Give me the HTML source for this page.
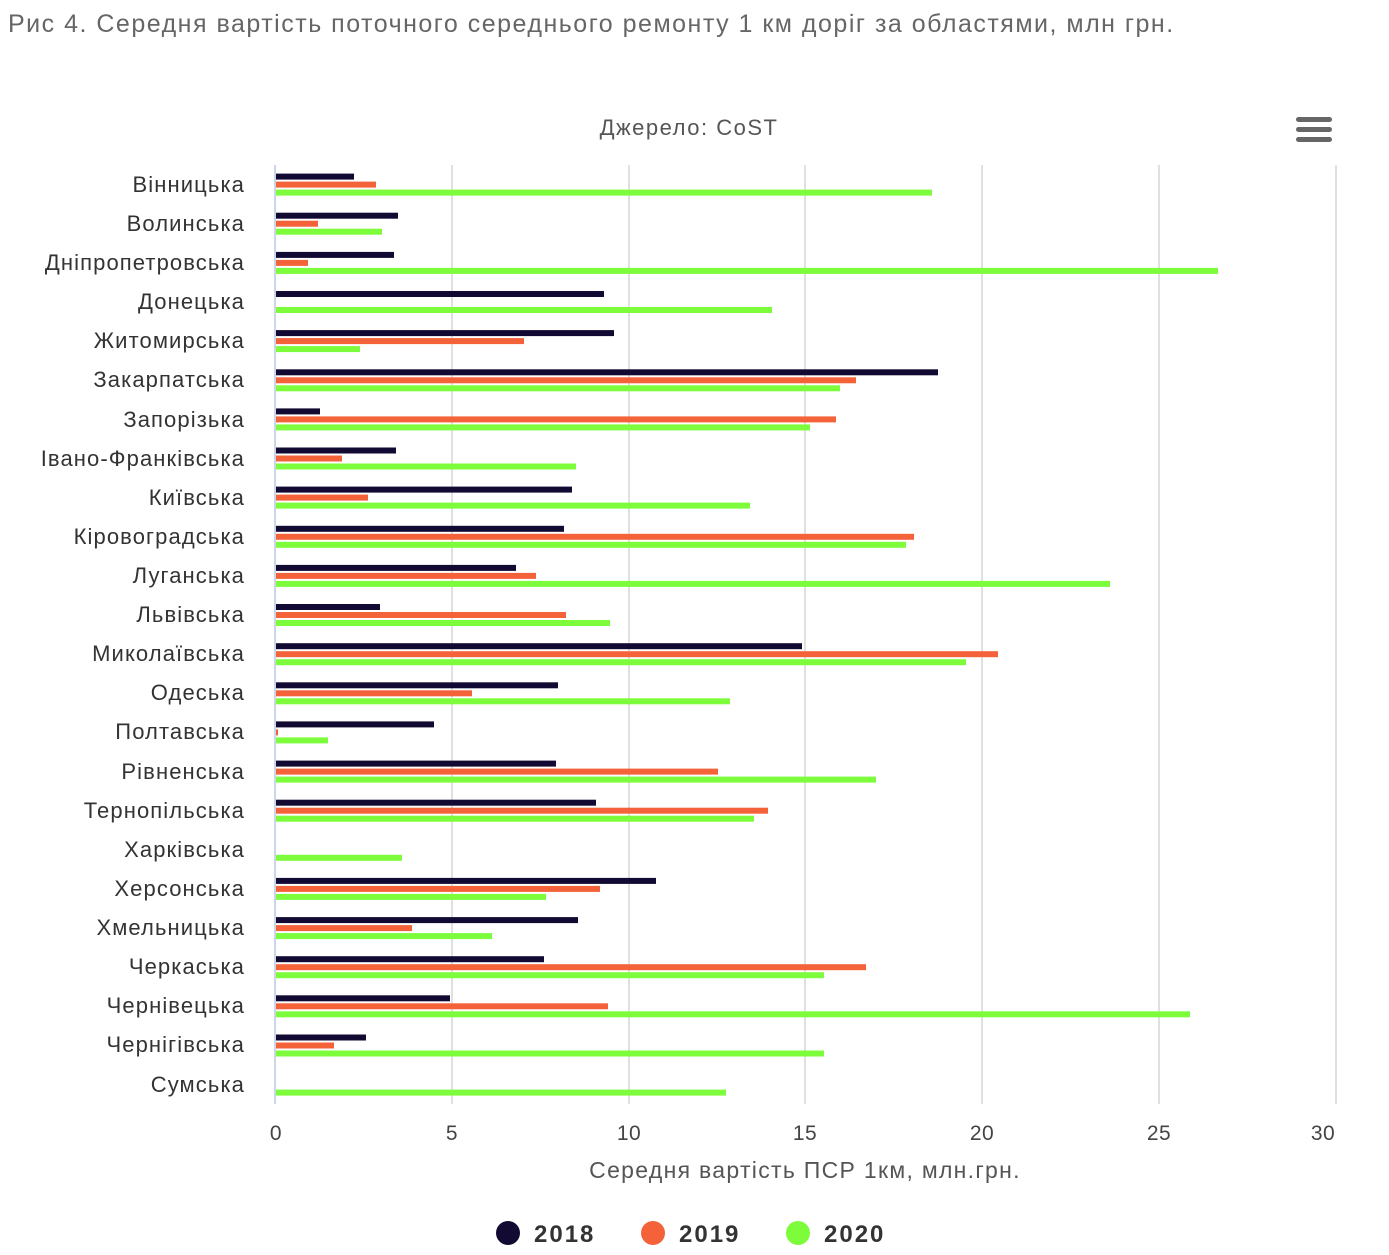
<!DOCTYPE html><html><head><meta charset="utf-8"><style>body{margin:0;background:#fff}svg{display:block;font-family:"Liberation Sans",sans-serif}</style></head><body>
<svg width="1389" height="1255" xmlns="http://www.w3.org/2000/svg">
<text x="8" y="32" font-size="25" letter-spacing="1.5" fill="#666">Рис 4. Середня вартість поточного середнього ремонту 1 км доріг за областями, млн грн.</text>
<text x="689" y="135" font-size="22" letter-spacing="1.5" fill="#555" text-anchor="middle">Джерело: CoST</text>
<g fill="#666"><rect x="1296" y="117" width="36" height="5" rx="2.5"/><rect x="1296" y="127" width="36" height="5" rx="2.5"/><rect x="1296" y="137" width="36" height="5" rx="2.5"/></g>
<g stroke="#e0e0e0" stroke-width="2"><line x1="452" y1="165" x2="452" y2="1104"/><line x1="629" y1="165" x2="629" y2="1104"/><line x1="805" y1="165" x2="805" y2="1104"/><line x1="982" y1="165" x2="982" y2="1104"/><line x1="1159" y1="165" x2="1159" y2="1104"/><line x1="1336" y1="165" x2="1336" y2="1104"/></g>
<line x1="275" y1="165" x2="275" y2="1104" stroke="#ccd6eb" stroke-width="2"/>
<g font-size="22" letter-spacing="1.1" fill="#333" text-anchor="end">
<text x="245" y="192">Вінницька</text><text x="245" y="231">Волинська</text><text x="245" y="270">Дніпропетровська</text><text x="245" y="309">Донецька</text><text x="245" y="348">Житомирська</text><text x="245" y="387">Закарпатська</text><text x="245" y="427">Запорізька</text><text x="245" y="466">Івано-Франківська</text><text x="245" y="505">Київська</text><text x="245" y="544">Кіровоградська</text><text x="245" y="583">Луганська</text><text x="245" y="622">Львівська</text><text x="245" y="661">Миколаївська</text><text x="245" y="700">Одеська</text><text x="245" y="739">Полтавська</text><text x="245" y="779">Рівненська</text><text x="245" y="818">Тернопільська</text><text x="245" y="857">Харківська</text><text x="245" y="896">Херсонська</text><text x="245" y="935">Хмельницька</text><text x="245" y="974">Черкаська</text><text x="245" y="1013">Чернівецька</text><text x="245" y="1052">Чернігівська</text><text x="245" y="1092">Сумська</text>
</g>
<g>
<g transform="translate(276,184.6)"><rect y="-11" width="78" height="6" fill="#120a33"/><rect y="-3" width="100" height="6" fill="#f4623a"/><rect y="5" width="656" height="6" fill="#7cfc3a"/></g>
<g transform="translate(276,223.7)"><rect y="-11" width="122" height="6" fill="#120a33"/><rect y="-3" width="42" height="6" fill="#f4623a"/><rect y="5" width="106" height="6" fill="#7cfc3a"/></g>
<g transform="translate(276,262.9)"><rect y="-11" width="118" height="6" fill="#120a33"/><rect y="-3" width="32" height="6" fill="#f4623a"/><rect y="5" width="942" height="6" fill="#7cfc3a"/></g>
<g transform="translate(276,302)"><rect y="-11" width="328" height="6" fill="#120a33"/><rect y="5" width="496" height="6" fill="#7cfc3a"/></g>
<g transform="translate(276,341.1)"><rect y="-11" width="338" height="6" fill="#120a33"/><rect y="-3" width="248" height="6" fill="#f4623a"/><rect y="5" width="84" height="6" fill="#7cfc3a"/></g>
<g transform="translate(276,380.3)"><rect y="-11" width="662" height="6" fill="#120a33"/><rect y="-3" width="580" height="6" fill="#f4623a"/><rect y="5" width="564" height="6" fill="#7cfc3a"/></g>
<g transform="translate(276,419.4)"><rect y="-11" width="44" height="6" fill="#120a33"/><rect y="-3" width="560" height="6" fill="#f4623a"/><rect y="5" width="534" height="6" fill="#7cfc3a"/></g>
<g transform="translate(276,458.5)"><rect y="-11" width="120" height="6" fill="#120a33"/><rect y="-3" width="66" height="6" fill="#f4623a"/><rect y="5" width="300" height="6" fill="#7cfc3a"/></g>
<g transform="translate(276,497.6)"><rect y="-11" width="296" height="6" fill="#120a33"/><rect y="-3" width="92" height="6" fill="#f4623a"/><rect y="5" width="474" height="6" fill="#7cfc3a"/></g>
<g transform="translate(276,536.8)"><rect y="-11" width="288" height="6" fill="#120a33"/><rect y="-3" width="638" height="6" fill="#f4623a"/><rect y="5" width="630" height="6" fill="#7cfc3a"/></g>
<g transform="translate(276,575.9)"><rect y="-11" width="240" height="6" fill="#120a33"/><rect y="-3" width="260" height="6" fill="#f4623a"/><rect y="5" width="834" height="6" fill="#7cfc3a"/></g>
<g transform="translate(276,615)"><rect y="-11" width="104" height="6" fill="#120a33"/><rect y="-3" width="290" height="6" fill="#f4623a"/><rect y="5" width="334" height="6" fill="#7cfc3a"/></g>
<g transform="translate(276,654.2)"><rect y="-11" width="526" height="6" fill="#120a33"/><rect y="-3" width="722" height="6" fill="#f4623a"/><rect y="5" width="690" height="6" fill="#7cfc3a"/></g>
<g transform="translate(276,693.3)"><rect y="-11" width="282" height="6" fill="#120a33"/><rect y="-3" width="196" height="6" fill="#f4623a"/><rect y="5" width="454" height="6" fill="#7cfc3a"/></g>
<g transform="translate(276,732.4)"><rect y="-11" width="158" height="6" fill="#120a33"/><rect y="-3" width="2" height="6" fill="#f4623a"/><rect y="5" width="52" height="6" fill="#7cfc3a"/></g>
<g transform="translate(276,771.6)"><rect y="-11" width="280" height="6" fill="#120a33"/><rect y="-3" width="442" height="6" fill="#f4623a"/><rect y="5" width="600" height="6" fill="#7cfc3a"/></g>
<g transform="translate(276,810.7)"><rect y="-11" width="320" height="6" fill="#120a33"/><rect y="-3" width="492" height="6" fill="#f4623a"/><rect y="5" width="478" height="6" fill="#7cfc3a"/></g>
<g transform="translate(276,849.8)"><rect y="5" width="126" height="6" fill="#7cfc3a"/></g>
<g transform="translate(276,888.9)"><rect y="-11" width="380" height="6" fill="#120a33"/><rect y="-3" width="324" height="6" fill="#f4623a"/><rect y="5" width="270" height="6" fill="#7cfc3a"/></g>
<g transform="translate(276,928.1)"><rect y="-11" width="302" height="6" fill="#120a33"/><rect y="-3" width="136" height="6" fill="#f4623a"/><rect y="5" width="216" height="6" fill="#7cfc3a"/></g>
<g transform="translate(276,967.2)"><rect y="-11" width="268" height="6" fill="#120a33"/><rect y="-3" width="590" height="6" fill="#f4623a"/><rect y="5" width="548" height="6" fill="#7cfc3a"/></g>
<g transform="translate(276,1006.3)"><rect y="-11" width="174" height="6" fill="#120a33"/><rect y="-3" width="332" height="6" fill="#f4623a"/><rect y="5" width="914" height="6" fill="#7cfc3a"/></g>
<g transform="translate(276,1045.5)"><rect y="-11" width="90" height="6" fill="#120a33"/><rect y="-3" width="58" height="6" fill="#f4623a"/><rect y="5" width="548" height="6" fill="#7cfc3a"/></g>
<g transform="translate(276,1084.6)"><rect y="5" width="450" height="6" fill="#7cfc3a"/></g>
</g>
<g font-size="21" letter-spacing="0.5" fill="#444" text-anchor="middle">
<text x="276" y="1140">0</text><text x="452" y="1140">5</text><text x="629" y="1140">10</text><text x="805" y="1140">15</text><text x="982" y="1140">20</text><text x="1159" y="1140">25</text><text x="1323" y="1140">30</text>
</g>
<text x="805" y="1178" font-size="23" letter-spacing="1.3" fill="#555" text-anchor="middle">Середня вартість ПСР 1км, млн.грн.</text>
<g font-size="24" letter-spacing="2" font-weight="bold" fill="#333">
<circle cx="508" cy="1233" r="12" fill="#120a33"/><text x="534" y="1242">2018</text>
<circle cx="653" cy="1233" r="12" fill="#f4623a"/><text x="679" y="1242">2019</text>
<circle cx="798" cy="1233" r="12" fill="#7cfc3a"/><text x="824" y="1242">2020</text>
</g>
</svg></body></html>
